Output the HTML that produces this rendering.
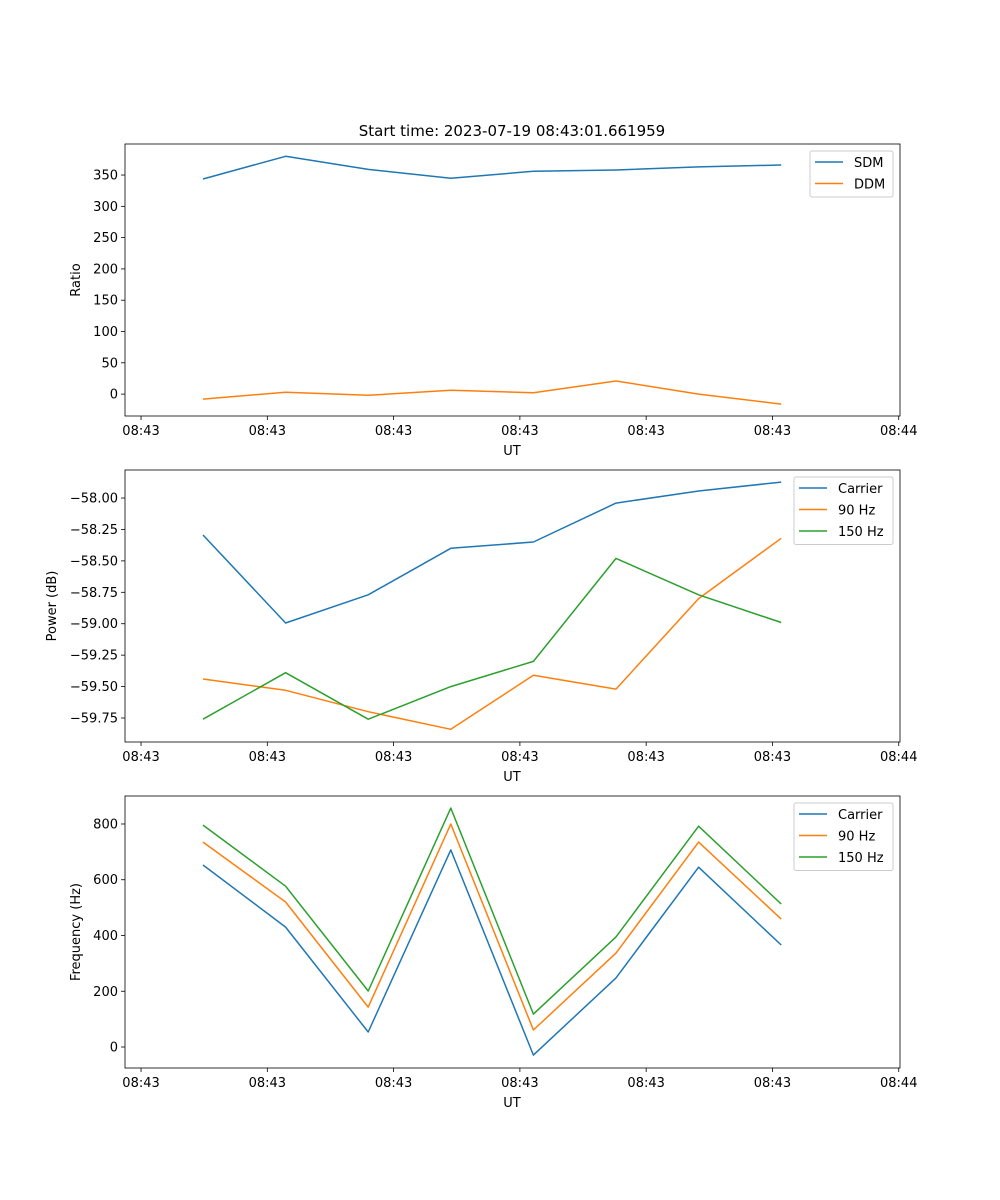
<!DOCTYPE html>
<html><head><meta charset="utf-8"><style>
html,body{margin:0;padding:0;background:#fff}
svg{display:block;font-family:"DejaVu Sans","Liberation Sans",sans-serif}
</style></head><body>
<svg id="fig" width="1000" height="1200" viewBox="0 0 1000 1200">
<rect width="1000" height="1200" fill="#fff"/>
<text x="512" y="136" font-size="15" text-anchor="middle">Start time: 2023-07-19 08:43:01.661959</text>
</svg>
<script>
const times = [4.91, 11.45, 17.99, 24.53, 31.07, 37.61, 44.15, 50.69];
const xTicks = [0, 10, 20, 30, 40, 50, 60];
const xTickLabels = ["08:43","08:43","08:43","08:43","08:43","08:43","08:44"];
const sdm = [343.6, 380, 359, 345, 356, 358, 363, 366];
const ddm = [-8, 3, -2, 6, 2, 21, 0, -16];
const ratioTicks = [0, 50, 100, 150, 200, 250, 300, 350];
const powCarrier = [-58.294, -58.994, -58.77, -58.40, -58.35, -58.04, -57.944, -57.873];
const pow90 = [-59.44, -59.53, -59.70, -59.84, -59.41, -59.52, -58.80, -58.32];
const pow150 = [-59.76, -59.39, -59.76, -59.50, -59.30, -58.48, -58.77, -58.99];
const powTicks = [-59.75, -59.5, -59.25, -59.0, -58.75, -58.5, -58.25, -58.0];
const freqCarrier = [653, 430, 54, 707, -29, 248, 645, 366];
const freq90 = [735, 520, 143, 800, 61, 337, 735, 459];
const freq150 = [796, 577, 201, 857, 118, 395, 792, 513];
const freqTicks = [0, 200, 400, 600, 800];

const NS = "http://www.w3.org/2000/svg";
const svg = document.getElementById('fig');
function mk(tag, attrs, parent){const e=document.createElementNS(NS,tag);for(const k in attrs)e.setAttribute(k,attrs[k]);(parent||svg).appendChild(e);return e;}
const L=125,R=900,xmin=-1.27,xmax=60.1;
const xs=v=>L+(v-xmin)/(xmax-xmin)*(R-L);
const C=["#1f77b4","#ff7f0e","#2ca02c"];

function panel(name, top, bottom, ymin, ymax, yTicks, fmt, ylabel, series, labels, legend){
  const ys=v=>bottom-(v-ymin)/(ymax-ymin)*(bottom-top);
  const g=mk('g',{});
  
  
  xTicks.forEach((t,i)=>{
    const x=xs(t);
    const tk=mk('line',{x1:x,x2:x,y1:bottom,y2:bottom+4,stroke:'#000','stroke-width':0.8},g);
    
    
    const tl=mk('text',{x:x,y:bottom+19,'font-size':13,'text-anchor':'middle'},g);
    tl.textContent=xTickLabels[i];
    
    
  });
  yTicks.forEach(t=>{
    const y=ys(t);
    const tk=mk('line',{x1:L-4,x2:L,y1:y,y2:y,stroke:'#000','stroke-width':0.8},g);
    
    
    const tl=mk('text',{x:L-7,y:y+4.5,'font-size':13,'text-anchor':'end'},g);
    tl.textContent=fmt(t);
    
    
  });
  const xl=mk('text',{x:512,y:bottom+39,'font-size':13,'text-anchor':'middle'},g);
  xl.textContent='UT';
  
  
  const yx=ylabel.x, yy=(top+bottom)/2;
  const yl=mk('text',{x:yx,y:yy,'font-size':13,'text-anchor':'middle',transform:`rotate(-90 ${yx} ${yy})`},g);
  yl.textContent=ylabel.t;
  
  
  series.forEach((s,i)=>{
    const p=mk('polyline',{points:s.map((v,j)=>xs(times[j]).toFixed(1)+','+ys(v).toFixed(1)).join(' '),fill:'none',stroke:C[i],'stroke-width':1.5,'stroke-linejoin':'round'},g);
    
    
  });
  const fr=mk('rect',{x:L,y:top,width:R-L,height:bottom-top,fill:'none',stroke:'#000','stroke-width':0.8},g);
  
  
  const lg=mk('g',{},g);
  
  
  mk('rect',{x:legend.x,y:top+7,width:893-legend.x,height:labels.length*21.5+3,fill:'#fff',stroke:'#ccc','stroke-width':1,rx:2},lg);
  labels.forEach((lab,i)=>{
    const y=top+18+i*21.5;
    const ln=mk('line',{x1:legend.x+5,x2:legend.x+33,y1:y,y2:y,stroke:C[i],'stroke-width':1.5},lg);
    
    
    const t=mk('text',{x:legend.x+44,y:y+5,'font-size':13},lg);
    t.textContent=lab;
    
    
  });
}
panel('ratio-panel',144,416,-35,399.6,ratioTicks,v=>String(v),{x:80,t:'Ratio'},[sdm,ddm],['SDM','DDM'],{x:810});
panel('power-panel',470,742,-59.941,-57.777,powTicks,v=>'\u2212'+Math.abs(v).toFixed(2),{x:56,t:'Power (dB)'},[powCarrier,pow90,pow150],['Carrier','90 Hz','150 Hz'],{x:794});
panel('frequency-panel',796,1068,-75.3,900.4,freqTicks,v=>String(v),{x:80,t:'Frequency (Hz)'},[freqCarrier,freq90,freq150],['Carrier','90 Hz','150 Hz'],{x:794});
</script>
</body></html>
